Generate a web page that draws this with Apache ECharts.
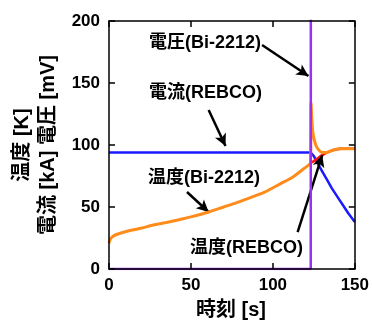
<!DOCTYPE html>
<html><head><meta charset="utf-8">
<script src="https://cdn.jsdelivr.net/npm/echarts@6/dist/echarts.min.js"></script>
<style>html,body{margin:0;padding:0;background:#fff}#c{width:372px;height:325px}</style>
</head><body><div id="c"></div>
<script>
const FONT = 'Liberation Sans, Arial, "Noto Sans CJK JP", sans-serif';
// Current (REBCO) [kA]
const currentT = [0, 123, 125, 127, 130, 133, 136, 140, 143, 146, 150];
const currentV = [94, 94, 91, 86, 79, 72, 65, 57, 51, 45, 38];
// Temperature Bi-2212 [K]
const tempBiT = [0, 0.5, 1, 2.5, 5, 11, 20, 27, 35, 42, 50, 61, 70, 78, 85, 95, 105, 112, 119, 122, 123, 123.3, 123.8, 124.4, 125.3, 126.5, 128, 130, 133, 137, 141, 150];
const tempBiV = [21, 23, 24.5, 26.5, 28, 30.5, 33, 35.5, 37.5, 39.5, 42, 46, 50, 53.5, 57, 62, 69, 74, 81, 84, 85.5, 134, 120, 110, 104, 99, 96, 94, 94, 96, 97, 97];
// Temperature REBCO [K]
const tempReT = [123, 125, 127, 129, 131, 133, 137, 141, 150];
const tempReV = [85.5, 87, 89, 91, 92.5, 94, 96, 97, 97];
// Voltage Bi-2212 [mV]
const voltT = [0, 123.1, 123.2];
const voltV = [0, 0, 400];
const xTicks = {min: 0, max: 150, interval: 50};
const yTicks = {min: 0, max: 200, interval: 50};

const zip = (a, b) => a.map((v, i) => [v, b[i]]);
const chart = echarts.init(document.getElementById('c'), null, {renderer: 'canvas'});
const axisCommon = {
  z: 20,
  axisLine: {show: true, onZero: false, lineStyle: {color: '#000', width: 1.5}},
  axisTick: {show: true, inside: true, length: 6, lineStyle: {color: '#000', width: 1.5}},
  splitLine: {show: false}
};
chart.setOption({
  animation: false,
  grid: {left: 109, right: 14, top: 21, bottom: 56},
  xAxis: [
    Object.assign({type: 'value', position: 'bottom', min: xTicks.min, max: xTicks.max, interval: xTicks.interval,
      axisLabel: {color: '#000', fontSize: 17, fontWeight: 'bold', fontFamily: FONT, margin: 8}}, axisCommon),
    Object.assign({type: 'value', position: 'top', min: xTicks.min, max: xTicks.max, interval: xTicks.interval,
      axisLabel: {show: false}}, axisCommon)
  ],
  yAxis: [
    Object.assign({type: 'value', position: 'left', min: yTicks.min, max: yTicks.max, interval: yTicks.interval,
      axisLabel: {color: '#000', fontSize: 17, fontWeight: 'bold', fontFamily: FONT, margin: 9}}, axisCommon),
    Object.assign({type: 'value', position: 'right', min: yTicks.min, max: yTicks.max, interval: yTicks.interval,
      axisLabel: {show: false}}, axisCommon)
  ],
  series: [
    {type: 'line', data: zip(currentT, currentV), showSymbol: false, symbol: 'none',
      lineStyle: {color: '#1a1aff', width: 2.5}, z: 3,
      markLine: {silent: true, symbol: ['none', 'arrow'], symbolSize: [9, 12], label: {show: false},
        lineStyle: {color: '#000', width: 2.5, type: 'solid'},
        data: [
          [{coord: [93.4, 180.6]}, {coord: [121.7, 155.6]}],
          [{coord: [60.8, 128.2]}, {coord: [71.1, 99.2]}],
          [{coord: [47.6, 62.1]}, {coord: [60.8, 46]}],
          [{coord: [115.1, 29.8]}, {coord: [130.1, 91.9]}]
        ]}},
    {type: 'line', data: zip(tempReT, tempReV), showSymbol: false, symbol: 'none',
      lineStyle: {color: '#ff1010', width: 2.5}, z: 4},
    {type: 'line', data: zip(tempBiT, tempBiV), showSymbol: false, symbol: 'none', smooth: 0.2,
      lineStyle: {color: '#ff8c1a', width: 3}, z: 5},
    {type: 'line', data: zip(voltT, voltV), showSymbol: false, symbol: 'none',
      lineStyle: {color: '#9b30f0', width: 2.5}, z: 6}
  ],
  graphic: [
    {type: 'text', x: 35, y: 145, rotation: Math.PI / 2,
      style: {text: '温度 [K]\n電流 [kA] 電圧 [mV]', align: 'center', verticalAlign: 'middle', lineHeight: 26,
        font: 'bold 20px ' + FONT, fill: '#000'}},
    {type: 'text', x: 231, y: 310,
      style: {text: '時刻 [s]', align: 'center', verticalAlign: 'middle', font: 'bold 20px ' + FONT, fill: '#000'}},
    {type: 'text', x: 149, y: 43, z: 10,
      style: {text: '電圧(Bi-2212)', align: 'left', verticalAlign: 'middle', font: 'bold 18px ' + FONT, fill: '#000'}},
    {type: 'text', x: 149, y: 93, z: 10,
      style: {text: '電流(REBCO)', align: 'left', verticalAlign: 'middle', font: 'bold 18px ' + FONT, fill: '#000'}},
    {type: 'text', x: 148, y: 178, z: 10,
      style: {text: '温度(Bi-2212)', align: 'left', verticalAlign: 'middle', font: 'bold 18px ' + FONT, fill: '#000'}},
    {type: 'text', x: 190, y: 248, z: 10,
      style: {text: '温度(REBCO)', align: 'left', verticalAlign: 'middle', font: 'bold 18px ' + FONT, fill: '#000'}}
  ]
});
</script></body></html>
